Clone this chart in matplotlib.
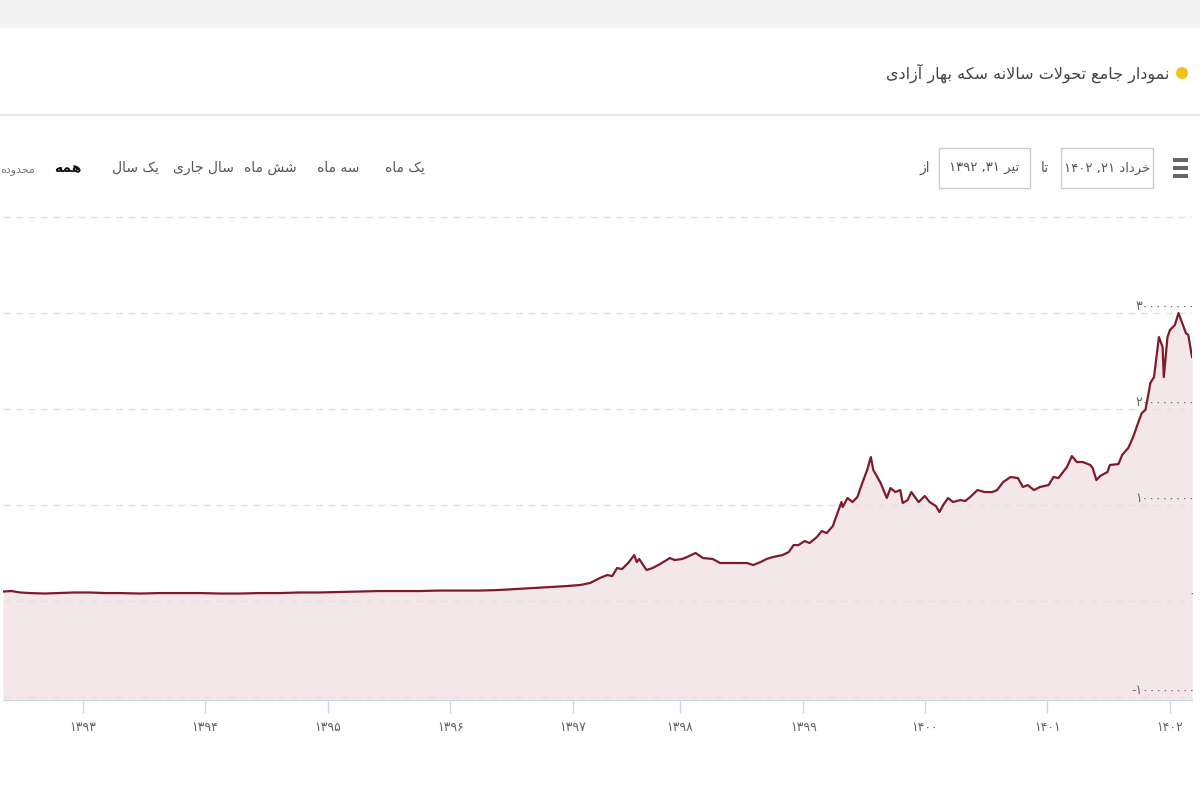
import matplotlib
matplotlib.use("Agg")
import matplotlib.pyplot as plt
import matplotlib.transforms as mtransforms
from matplotlib.patches import Rectangle, Ellipse

# position on the chart's (ordinal) time axis, in years
pos = [1392.35, 1392.42, 1392.49, 1392.57, 1392.69, 1392.81, 1392.93, 1393.06, 1393.18, 1393.30,
       1393.47, 1393.63, 1393.79, 1393.96, 1394.12, 1394.28, 1394.44, 1394.61, 1394.77, 1394.93,
       1395.10, 1395.26, 1395.42, 1395.59, 1395.75, 1395.91, 1396.08, 1396.24, 1396.40, 1396.54,
       1396.67, 1396.81, 1396.95, 1397.06, 1397.14, 1397.22, 1397.28, 1397.32, 1397.36, 1397.40,
       1397.45, 1397.50, 1397.52, 1397.54, 1397.60, 1397.65, 1397.71, 1397.79, 1397.83, 1397.89,
       1397.93, 1398.00, 1398.06, 1398.14, 1398.20, 1398.31, 1398.42, 1398.47, 1398.53, 1398.58,
       1398.63, 1398.71, 1398.76, 1398.80, 1398.84, 1398.89, 1398.93, 1398.99, 1399.03, 1399.07,
       1399.12, 1399.19, 1399.20, 1399.24, 1399.28, 1399.32, 1399.36, 1399.40, 1399.43, 1399.45,
       1399.51, 1399.56, 1399.59, 1399.63, 1399.67, 1399.69, 1399.73, 1399.76, 1399.79, 1399.82,
       1399.87, 1399.91, 1399.96, 1399.99, 1400.02, 1400.06, 1400.10, 1400.16, 1400.20, 1400.24,
       1400.30, 1400.36, 1400.42, 1400.46, 1400.51, 1400.57, 1400.63, 1400.67, 1400.71, 1400.76,
       1400.81, 1400.88, 1400.92, 1400.96, 1401.03, 1401.07, 1401.11, 1401.16, 1401.22, 1401.24,
       1401.27, 1401.30, 1401.36, 1401.38, 1401.45, 1401.48, 1401.53, 1401.57, 1401.61, 1401.64,
       1401.67, 1401.69, 1401.71, 1401.74, 1401.78, 1401.81, 1401.82, 1401.85, 1401.87, 1401.91,
       1401.94, 1401.97, 1402.00, 1402.02, 1402.05]

# coin price, millions
price_m = [9.9, 10.4, 8.9, 8.3, 7.8, 8.3, 8.9, 8.9, 8.3, 8.3,
           7.8, 8.3, 8.3, 8.3, 7.8, 7.8, 8.3, 8.3, 8.9, 8.9,
           9.4, 9.9, 10.4, 10.4, 10.4, 10.9, 10.9, 10.9, 11.5, 12.5,
           13.5, 14.6, 15.6, 16.7, 18.8, 24.0, 27.1, 26.0, 34.4, 33.3,
           39.6, 47.9, 40.6, 43.8, 32.3, 34.4, 38.5, 44.8, 42.7, 43.8,
           45.8, 50.0, 44.8, 43.8, 39.6, 39.6, 39.6, 37.5, 40.6, 43.8,
           45.8, 47.9, 51.0, 58.3, 58.3, 62.5, 60.4, 66.7, 72.9, 70.8,
           78.1, 103.1, 97.9, 107.3, 103.1, 108.3, 122.9, 136.5, 150.0, 136.5,
           122.9, 107.3, 117.7, 113.5, 115.6, 102.1, 105.2, 113.5, 108.3, 103.1,
           109.4, 103.1, 99.0, 92.7, 100.0, 107.3, 103.1, 105.2, 104.2, 108.3,
           115.6, 113.5, 113.5, 115.6, 124.0, 129.2, 128.1, 118.8, 120.8, 115.6,
           118.8, 120.8, 129.2, 128.1, 139.6, 151.0, 144.8, 144.8, 141.7, 138.5,
           126.0, 130.2, 134.4, 141.7, 142.7, 152.1, 159.4, 170.8, 185.4, 195.8,
           199.0, 212.5, 227.1, 233.3, 275.0, 264.6, 233.3, 275.0, 282.3, 287.5,
           300.0, 289.6, 279.2, 277.1, 254.2]

year_ticks = [1393, 1394, 1395, 1396, 1397, 1398, 1399, 1400, 1401, 1402]
year_tick_pos = [1393.0, 1394.0, 1395.0, 1396.0, 1397.0, 1397.87, 1398.88, 1399.87, 1400.87, 1401.87]
y_ticks_m = [-100, 0, 100, 200, 300]
y_grid_m = [-100, 0, 100, 200, 300, 400]

title = "نمودار جامع تحولات سالانه سکه بهار آزادی"
ranges = ["یک ماه", "سه ماه", "شش ماه", "سال جاری", "یک سال", "همه"]
range_x = [405, 338, 270, 203, 135, 68]
date_from = ("تیر", 31, 1392)
date_to = ("خرداد", 21, 1402)

FA = str.maketrans("0123456789", "۰۱۲۳۴۵۶۷۸۹")

# minimal Persian shaping: (isolated, final, initial, medial)
FORMS = {
    'ا': ('\uFE8D', '\uFE8E'), 'آ': ('\uFE81', '\uFE82'),
    'د': ('\uFEA9', '\uFEAA'), 'ر': ('\uFEAD', '\uFEAE'),
    'ز': ('\uFEAF', '\uFEB0'), 'و': ('\uFEED', '\uFEEE'),
    'ب': ('\uFE8F', '\uFE90', '\uFE91', '\uFE92'),
    'ت': ('\uFE95', '\uFE96', '\uFE97', '\uFE98'),
    'ج': ('\uFE9D', '\uFE9E', '\uFE9F', '\uFEA0'),
    'ح': ('\uFEA1', '\uFEA2', '\uFEA3', '\uFEA4'),
    'خ': ('\uFEA5', '\uFEA6', '\uFEA7', '\uFEA8'),
    'س': ('\uFEB1', '\uFEB2', '\uFEB3', '\uFEB4'),
    'ش': ('\uFEB5', '\uFEB6', '\uFEB7', '\uFEB8'),
    'ع': ('\uFEC9', '\uFECA', '\uFECB', '\uFECC'),
    'ل': ('\uFEDD', '\uFEDE', '\uFEDF', '\uFEE0'),
    'م': ('\uFEE1', '\uFEE2', '\uFEE3', '\uFEE4'),
    'ن': ('\uFEE5', '\uFEE6', '\uFEE7', '\uFEE8'),
    'ه': ('\uFEE9', '\uFEEA', '\uFEEB', '\uFEEC'),
    'ی': ('\uFBFC', '\uFBFD', '\uFBFE', '\uFBFF'),
    'ک': ('\uFB8E', '\uFB8F', '\uFB90', '\uFB91'),
}
LAM_ALEF = {'ا': ('\uFEFB', '\uFEFC'), 'آ': ('\uFEF5', '\uFEF6')}


def shape(s):
    """Join Persian letters and return them in visual (left-to-right) order."""
    dual = lambda c: c in FORMS and len(FORMS[c]) == 4
    out, i = [], 0
    while i < len(s):
        c = s[i]
        if c not in FORMS:
            out.append(c)
            i += 1
            continue
        pc = i > 0 and dual(s[i - 1])
        if c == 'ل' and i + 1 < len(s) and s[i + 1] in LAM_ALEF:
            iso, fin = LAM_ALEF[s[i + 1]]
            out.append(fin if pc else iso)
            i += 2
            continue
        nc = dual(c) and i + 1 < len(s) and s[i + 1] in FORMS
        f = FORMS[c]
        out.append(f[3] if pc and nc else f[1] if pc else f[2] if nc else f[0])
        i += 1
    return "".join(reversed(out))


def date_text(d):
    month, day, year = d
    return f"{year} ,{day}".translate(FA) + " " + shape(month)


plt.rcParams["font.family"] = ["DejaVu Sans"]
fig = plt.figure(figsize=(12, 8), dpi=100)
fig.patch.set_facecolor("white")

W, H = 1200, 800
fx = lambda px: px / W
fy = lambda py: 1 - py / H

# page chrome
fig.add_artist(Rectangle((0, fy(28)), 1, 28 / H, transform=fig.transFigure,
                         facecolor="#f4f4f4", edgecolor="none"))
fig.add_artist(plt.Line2D([0, 1], [fy(115), fy(115)], transform=fig.transFigure,
                          color="#e8e8e8", lw=1.5))
fig.add_artist(Ellipse((fx(1182), fy(73)), 12 / W, 12 / H, transform=fig.transFigure,
                       facecolor="#f2c21b", edgecolor="none"))
fig.text(fx(1170), fy(73), shape(title), ha="right", va="center",
         fontsize=11.5, color="#444444")

# range selector
for label, x in zip(ranges, range_x):
    bold = label == "همه"
    fig.text(fx(x), fy(168), shape(label), ha="center", va="center",
             fontsize=10, color="#111111" if bold else "#555555",
             fontweight="bold" if bold else "normal")
fig.text(fx(18), fy(170), shape("محدوده"), ha="center", va="center",
         fontsize=8, color="#777777")

# date inputs
fig.text(fx(925), fy(168), shape("از"), ha="center", va="center", fontsize=10, color="#555555")
fig.text(fx(1045), fy(168), shape("تا"), ha="center", va="center", fontsize=10, color="#555555")
for (x0, x1), d in [((939, 1030), date_from), ((1061, 1153), date_to)]:
    fig.add_artist(Rectangle((fx(x0), fy(188)), (x1 - x0) / W, 40 / H,
                             transform=fig.transFigure, facecolor="white",
                             edgecolor="#cccccc", lw=1))
    fig.text(fx((x0 + x1) / 2), fy(168), date_text(d), ha="center", va="center",
             fontsize=9.5, color="#555555")
for yb in (158, 166, 174):
    fig.add_artist(Rectangle((fx(1173), fy(yb + 4)), 15 / W, 4 / H,
                             transform=fig.transFigure, facecolor="#666666",
                             edgecolor="none"))

# chart
ax = fig.add_axes([fx(3), fy(700), (1192 - 3) / W, (700 - 213) / H])
ax.set_facecolor("none")
vals = [v * 1e6 for v in price_m]
ymin, ymax = -103.1e6, 404.2e6
ax.fill_between(pos, vals, ymin, color="#f4e7e9", lw=0, zorder=1)
ax.plot(pos, vals, color="#7d1b2c", lw=1.6, zorder=3)
for g in y_grid_m:
    ax.axhline(g * 1e6, color="#e2e2e2", lw=1, ls=(0, (5, 4)), zorder=2)
ax.set_xlim(pos[0], pos[-1])
ax.set_ylim(ymin, ymax)

ax.set_xticks(year_tick_pos)
ax.set_xticklabels([str(y).translate(FA) for y in year_ticks], fontsize=9, color="#666666")
ax.tick_params(axis="x", length=9, width=1, color="#ccd6eb", pad=6)
ax.set_yticks([])
for s in ("top", "left", "right"):
    ax.spines[s].set_visible(False)
ax.spines["bottom"].set_color("#ccd6eb")

trans = mtransforms.blended_transform_factory(fig.transFigure, ax.transData)
for v in y_ticks_m:
    ax.text(fx(1195), v * 1e6, str(int(v * 1e6)).translate(FA), transform=trans,
            ha="right", va="bottom", fontsize=9, color="#666666", zorder=4)

fig.savefig("out.png", dpi=100)
